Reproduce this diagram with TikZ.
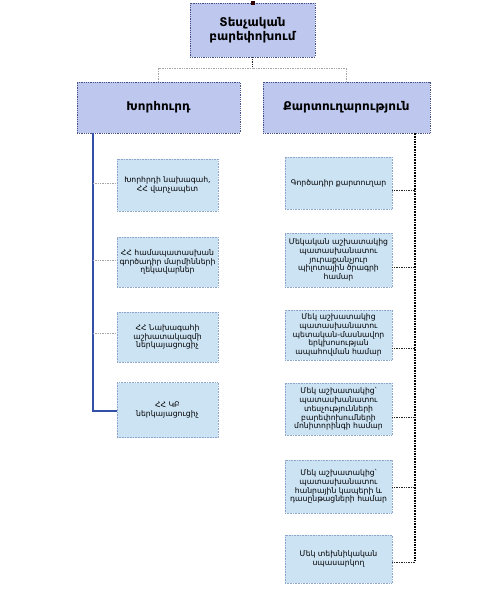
\documentclass[tikz,border=0pt]{standalone}
\usepackage{fontspec}
\setmainfont{DejaVu Sans}
\definecolor{topfill}{RGB}{190,200,238}
\definecolor{childfill}{RGB}{204,227,244}
\definecolor{topdraw}{RGB}{70,80,130}
\definecolor{childdraw}{RGB}{140,165,200}
\definecolor{leftblue}{RGB}{50,80,170}
\begin{document}
\begin{tikzpicture}[x=1pt,y=-1pt,
  mainbox/.style={draw=topdraw, densely dotted, line width=0.8pt, fill=topfill, align=center, font=\fontsize{12}{14}\selectfont\bfseries, inner sep=2pt},
  childbox/.style={draw=childdraw, densely dotted, line width=0.6pt, fill=childfill, align=center, font=\fontsize{7.7}{8.8}\selectfont, inner sep=1pt},
  grayconn/.style={draw=gray!70, densely dotted, line width=0.7pt},
  darkconn/.style={draw=black!85, densely dotted, line width=0.7pt},
  vdark/.style={draw=black, densely dotted, line width=1.6pt},
  blueconn/.style={draw=leftblue, line width=1.4pt}]
\useasboundingbox (0,0) rectangle (480,601);
% top
\node[mainbox, minimum width=125pt, minimum height=54pt] (top) at (252.5,30) {Տեսչական\\բարեփոխում};
\node[fill=black!70!red!60!black, minimum size=4pt, inner sep=0pt] (handle) at (top.north) {};
\node[mainbox, minimum width=163pt, minimum height=51pt] (council) at (158.5,107.5) {Խորհուրդ};
\node[mainbox, minimum width=167pt, minimum height=51pt] (secr) at (346.5,107.5) {Քարտուղարություն};
% left children
\node[childbox, minimum width=101pt, minimum height=52pt] (c1) at (167.5,185) {Խորհրդի նախագահ,\\ՀՀ վարչապետ};
\node[childbox, minimum width=101pt, minimum height=50pt] (c2) at (167.5,262) {ՀՀ համապատասխան\\գործադիր մարմինների\\ղեկավարներ};
\node[childbox, minimum width=101pt, minimum height=50pt] (c3) at (167.5,337) {ՀՀ Նախագահի\\աշխատակազմի\\ներկայացուցիչ};
\node[childbox, minimum width=101pt, minimum height=55pt] (c4) at (167.5,410) {ՀՀ ԿԲ\\ներկայացուցիչ};
% right children
\node[childbox, minimum width=107pt, minimum height=52pt] (r1) at (338.5,183) {Գործադիր քարտուղար};
\node[childbox, minimum width=107pt, minimum height=54pt] (r2) at (338.5,260) {Մեկական աշխատակից\\պատասխանատու\\յուրաքանչյուր\\պիլոտային ծրագրի\\համար};
\node[childbox, minimum width=107pt, minimum height=50pt] (r3) at (338.5,335) {Մեկ աշխատակից\\պատասխանատու\\պետական-մասնավոր\\երկխոսության\\ապահովման համար};
\node[childbox, minimum width=107pt, minimum height=52pt] (r4) at (338.5,409) {Մեկ աշխատակից՝\\պատասխանատու\\տեսչությունների\\բարեփոխումների\\մոնիտորինգի համար};
\node[childbox, minimum width=107pt, minimum height=53pt] (r5) at (338.5,486.5) {Մեկ աշխատակից՝\\պատասխանատու\\հանրային կապերի և\\դասընթացների համար};
\node[childbox, minimum width=107pt, minimum height=48pt] (r6) at (338.5,559) {Մեկ տեխնիկական\\սպասարկող};
% top connectors
\coordinate (tj) at (252.5,68);
\draw[darkconn] (top.south) -- (tj);
\draw[grayconn] (tj) -| (council.north);
\draw[grayconn] (tj) -| (secr.north);
% left tree
\coordinate (lx) at (93,0);
\coordinate (l1) at (93,183);
\coordinate (l2) at (93,260);
\coordinate (l3) at (93,333);
\coordinate (l4) at (93,411);
\draw[blueconn] (council.south -| lx) -- (l4) -- (l4 -| c4.west);
\draw[grayconn] (l1) -- (l1 -| c1.west);
\draw[grayconn] (l2) -- (l2 -| c2.west);
\draw[grayconn] (l3) -- (l3 -| c3.west);
% right tree
\coordinate (rx) at (415,0);
\coordinate (q1) at (415,190);
\coordinate (q2) at (415,267);
\coordinate (q3) at (415,348);
\coordinate (q4) at (415,417);
\coordinate (q5) at (415,487);
\coordinate (q6) at (415,562);
\draw[vdark] (secr.south -| rx) -- (q6);
\draw[darkconn] (q1) -- (q1 -| r1.east);
\draw[darkconn] (q2) -- (q2 -| r2.east);
\draw[darkconn] (q3) -- (q3 -| r3.east);
\draw[darkconn] (q4) -- (q4 -| r4.east);
\draw[darkconn] (q5) -- (q5 -| r5.east);
\draw[darkconn] (q6) -- (q6 -| r6.east);
\end{tikzpicture}
\end{document}
